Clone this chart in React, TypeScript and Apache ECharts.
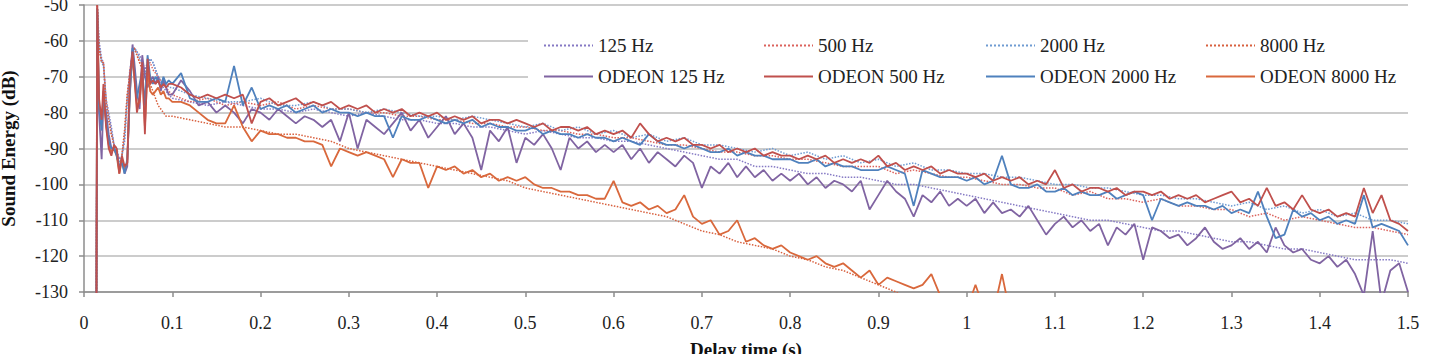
import React, { useEffect, useRef } from "react";
import * as echarts from "echarts";

// Shared sample times for the first reflections (s)
const earlyTimes = [
  0.014, 0.015, 0.017, 0.02, 0.022, 0.025, 0.028, 0.031, 0.034, 0.037,
  0.04, 0.043, 0.046, 0.049, 0.052, 0.055, 0.057, 0.06, 0.063, 0.066,
  0.069, 0.072, 0.075, 0.078, 0.081, 0.084, 0.087, 0.09, 0.093, 0.096,
];

// Sample grids after 0.1 s: 10 ms for ODEON, 20 ms for the measured curves
const odeonTimes = [
  ...earlyTimes,
  ...Array.from({ length: 141 }, (_, i) => Math.round((0.1 + i * 0.01) * 1000) / 1000),
];
const measuredTimes = [
  ...earlyTimes,
  ...Array.from({ length: 71 }, (_, i) => Math.round((0.1 + i * 0.02) * 1000) / 1000),
];

// Measured decay curves (dB)
const measured125 = [
  -140, -50, -60, -65, -66, -76, -80, -84, -89, -90, -93, -92, -88, -76, -68, -63, -62, -63, -64, -66, -68, -66, -65, -66, -68, -70, -72, -73, -74, -75,
  -76, -77, -78, -77, -78, -79, -79, -80, -79, -80,
  -81, -80, -81, -82, -82, -83, -83, -84, -84, -85,
  -86, -85, -86, -87, -87, -88, -88, -89, -90, -91,
  -92, -93, -93, -95, -95, -96, -97, -97, -98, -98,
  -99, -100, -100, -101, -102, -103, -104, -105, -106, -107,
  -108, -109, -110, -110, -111, -112, -113, -113, -114, -115,
  -116, -116, -117, -118, -118, -119, -120, -121, -121, -121,
  -122,
];
const measured500 = [
  -140, -50, -62, -66, -66, -77, -82, -86, -89, -90, -96, -92, -85, -75, -69, -63, -62, -64, -66, -68, -70, -67, -66, -68, -69, -70, -71, -72, -73, -74,
  -75, -77, -76, -78, -77, -78, -77, -79, -78, -79,
  -79, -80, -80, -81, -81, -82, -82, -83, -83, -84,
  -84, -85, -85, -86, -86, -87, -87, -88, -89, -89,
  -90, -91, -91, -92, -92, -93, -93, -94, -95, -95,
  -95, -97, -96, -97, -98, -98, -99, -100, -100, -101,
  -101, -103, -102, -104, -104, -105, -104, -106, -106, -107,
  -107, -109, -108, -110, -109, -110, -111, -112, -112, -113,
  -114,
];
const measured2000 = [
  -140, -51, -61, -66, -67, -77, -81, -85, -89, -90, -94, -92, -87, -77, -70, -64, -62, -63, -65, -66, -69, -67, -65, -66, -68, -70, -71, -72, -72, -73,
  -73, -75, -76, -77, -77, -76, -78, -78, -77, -79,
  -79, -80, -79, -80, -81, -81, -82, -81, -82, -83,
  -84, -83, -85, -84, -86, -85, -87, -86, -88, -87,
  -89, -89, -90, -91, -90, -92, -91, -93, -92, -94,
  -93, -95, -94, -96, -96, -97, -97, -98, -98, -99,
  -100, -100, -101, -101, -102, -103, -103, -104, -104, -105,
  -106, -105, -107, -106, -108, -107, -109, -108, -110, -110,
  -111,
];
const measured8000 = [
  -140, -50, -62, -66, -66, -77, -82, -86, -89, -90, -96, -92, -85, -75, -69, -63, -62, -64, -66, -68, -70, -71, -72, -74, -76, -78, -79, -80, -81, -81,
  -81, -82, -83, -84, -84, -85, -86, -86, -87, -88,
  -90, -91, -92, -93, -94, -95, -96, -97, -98, -99,
  -101, -102, -103, -104, -105, -106, -107, -108, -109, -111,
  -113, -114, -116, -117, -118, -120, -121, -123, -124, -126,
  -128, -130, -133,
];

// ODEON simulated decay curves (dB)
const odeon125 = [
  -140, -52, -80, -93, -76, -80, -86, -90, -90, -91, -96, -93, -97, -95, -72, -61, -66, -74, -79, -64, -70, -73, -71, -70, -72, -70, -74, -71, -73, -75,
  -75, -71, -74, -78, -77, -80, -78, -80, -83, -79,
  -80, -82, -79, -81, -83, -81, -82, -84, -82, -88,
  -80, -90, -82, -84, -86, -83, -80, -85, -82, -87,
  -84, -81, -86, -83, -87, -96, -85, -88, -84, -94,
  -87, -89, -86, -90, -96, -87, -90, -88, -91, -89,
  -91, -89, -93, -90, -94, -91, -93, -95, -92, -94,
  -101, -95, -97, -94, -98, -95, -98, -96, -99, -97,
  -99, -97, -100, -98, -101, -99, -100, -102, -99, -107,
  -103, -99, -102, -104, -109, -103, -105, -102, -106, -104,
  -106, -104, -108, -105, -108, -107, -109, -106, -110, -114,
  -111, -109, -112, -110, -113, -111, -117, -112, -114, -111,
  -121, -112, -113, -115, -114, -117, -115, -112, -116, -118,
  -117, -115, -118, -116, -119, -112, -117, -119, -118, -121,
  -122, -120, -123, -121, -125, -131, -113, -133, -124, -122,
  -130,
];
const odeon500 = [
  -140, -50, -76, -82, -72, -84, -90, -92, -89, -90, -97, -92, -95, -94, -70, -63, -70, -80, -76, -66, -86, -65, -72, -71, -72, -71, -73, -72, -73, -72,
  -72, -73, -75, -76, -75, -76, -75, -76, -75, -83,
  -77, -76, -78, -77, -76, -78, -77, -78, -77, -79,
  -78, -79, -78, -80, -79, -80, -79, -81, -80, -81,
  -80, -82, -81, -82, -81, -83, -82, -82, -83, -82,
  -83, -84, -83, -85, -84, -84, -85, -84, -86, -85,
  -86, -85, -87, -83, -86, -88, -87, -88, -87, -89,
  -89, -90, -89, -91, -90, -91, -90, -92, -91, -92,
  -92, -93, -92, -93, -92, -94, -93, -94, -93, -94,
  -92, -95, -94, -96, -95, -96, -95, -97, -96, -97,
  -97, -98, -97, -99, -98, -99, -98, -100, -99, -100,
  -96, -101, -100, -102, -101, -101, -102, -101, -103, -102,
  -102, -103, -102, -104, -103, -104, -103, -105, -104, -103,
  -102, -105, -104, -106, -101, -106, -105, -107, -103, -107,
  -108, -107, -109, -108, -109, -101, -108, -103, -110, -111,
  -113,
];
const odeon2000 = [
  -140, -51, -78, -85, -74, -82, -88, -90, -90, -92, -95, -94, -97, -93, -75, -62, -68, -76, -72, -68, -78, -64, -70, -72, -70, -71, -73, -70, -72, -71,
  -72, -69, -76, -77, -77, -76, -77, -67, -78, -73,
  -79, -78, -79, -78, -80, -79, -78, -80, -79, -80,
  -80, -81, -80, -81, -81, -87, -81, -82, -82, -81,
  -82, -83, -82, -83, -82, -84, -83, -84, -84, -85,
  -85, -84, -86, -85, -86, -86, -87, -86, -87, -87,
  -88, -87, -88, -89, -86, -88, -89, -89, -90, -89,
  -90, -91, -91, -90, -92, -91, -92, -92, -93, -93,
  -93, -94, -94, -93, -95, -94, -95, -95, -96, -96,
  -96, -95, -96, -97, -106, -96, -97, -98, -98, -98,
  -99, -98, -100, -99, -92, -100, -101, -101, -100, -102,
  -102, -101, -103, -102, -103, -103, -102, -104, -103, -102,
  -103, -110, -104, -105, -106, -105, -106, -106, -107, -106,
  -108, -107, -108, -102, -109, -115, -114, -107, -109, -108,
  -110, -109, -111, -110, -111, -103, -112, -111, -112, -113,
  -117,
];
const odeon8000 = [
  -140, -51, -78, -84, -75, -83, -89, -91, -90, -92, -97, -93, -96, -94, -74, -64, -70, -78, -77, -68, -84, -68, -74, -75, -74, -73, -75, -74, -76, -76,
  -77, -77, -78, -80, -82, -83, -83, -78, -84, -88,
  -85, -86, -86, -87, -87, -88, -88, -89, -95, -90,
  -91, -92, -91, -92, -93, -98, -93, -94, -94, -101,
  -95, -96, -95, -97, -96, -98, -97, -99, -98, -99,
  -98, -100, -101, -101, -102, -102, -103, -103, -104, -104,
  -99, -105, -106, -105, -107, -106, -108, -107, -103, -109,
  -111, -110, -114, -113, -110, -116, -115, -117, -118, -117,
  -119, -120, -121, -120, -122, -123, -122, -124, -126, -124,
  -128, -126, -127, -128, -129, -128, -125, -131, -132, -134,
  -135, -128, -135, -136, -125, -137, -138, -139, -140, -141,
];

const FONT = '"Liberation Serif", "Times New Roman", serif';

type Curve = {
  name: string;
  times: number[];
  values: number[];
  color: string;
  dotted: boolean;
};

const curves: Curve[] = [
  { name: "125 Hz", times: measuredTimes, values: measured125, color: "#8579C4", dotted: true },
  { name: "500 Hz", times: measuredTimes, values: measured500, color: "#DB625C", dotted: true },
  { name: "2000 Hz", times: measuredTimes, values: measured2000, color: "#6F9BD2", dotted: true },
  { name: "8000 Hz", times: measuredTimes, values: measured8000, color: "#D8603E", dotted: true },
  { name: "ODEON 125 Hz", times: odeonTimes, values: odeon125, color: "#8064A2", dotted: false },
  { name: "ODEON 8000 Hz", times: odeonTimes, values: odeon8000, color: "#D9683C", dotted: false },
  { name: "ODEON 2000 Hz", times: odeonTimes, values: odeon2000, color: "#4F81BD", dotted: false },
  { name: "ODEON 500 Hz", times: odeonTimes, values: odeon500, color: "#C0504D", dotted: false },
];

const legendColumns = [
  ["125 Hz", "ODEON 125 Hz"],
  ["500 Hz", "ODEON 500 Hz"],
  ["2000 Hz", "ODEON 2000 Hz"],
  ["8000 Hz", "ODEON 8000 Hz"],
];
const legendLeft = [538, 758, 980, 1200];

export default function App() {
  const ref = useRef<HTMLDivElement>(null);

  useEffect(() => {
    if (!ref.current) return;
    const chart = echarts.init(ref.current, undefined, { renderer: "svg" });

    chart.setOption({
      animation: false,
      backgroundColor: "#ffffff",
      textStyle: { fontFamily: FONT },
      grid: {
        left: 84,
        right: 21,
        top: 5,
        bottom: 62,
        containLabel: false,
        outerBoundsMode: "none",
      },
      xAxis: {
        type: "value",
        min: 0,
        max: 1.5,
        interval: 0.1,
        name: "Delay time (s)",
        nameLocation: "middle",
        nameGap: 48,
        nameTextStyle: { fontFamily: FONT, fontSize: 19, fontWeight: "bold", color: "#111" },
        axisLine: { show: true, lineStyle: { color: "#8c8c8c", width: 1.5 } },
        axisTick: { show: true, inside: false, length: 5, lineStyle: { color: "#8c8c8c", width: 1.5 } },
        axisLabel: { fontFamily: FONT, fontSize: 18, color: "#222", margin: 22 },
        splitLine: { show: false },
      },
      yAxis: {
        type: "value",
        min: -130,
        max: -50,
        interval: 10,
        name: "Sound Energy (dB)",
        nameLocation: "middle",
        nameRotate: 90,
        nameGap: 66,
        nameTextStyle: { fontFamily: FONT, fontSize: 19, fontWeight: "bold", color: "#111" },
        axisLine: { show: true, lineStyle: { color: "#8c8c8c", width: 1.5 } },
        axisTick: { show: true, inside: false, length: 5, lineStyle: { color: "#8c8c8c", width: 1.5 } },
        axisLabel: { fontFamily: FONT, fontSize: 18, color: "#222", margin: 16 },
        splitLine: { show: true, lineStyle: { color: "#cccccc", width: 2 } },
      },
      legend: legendColumns.map((names, i) => ({
        orient: "vertical",
        left: legendLeft[i],
        top: 31,
        itemWidth: 49,
        itemHeight: 14,
        itemGap: 12,
        selectedMode: false,
        data: names,
        itemStyle: { opacity: 0 },
        textStyle: { fontFamily: FONT, fontSize: 19, color: "#222" },
      })),
      graphic: [
        {
          type: "rect",
          z: 1,
          silent: true,
          shape: { x: 528, y: 26, width: 882, height: 70 },
          style: { fill: "#ffffff" },
        },
      ],
      series: curves.map((c) => ({
        name: c.name,
        type: "line",
        symbol: "none",
        clip: true,
        z: c.dotted ? 2 : 3,
        data: c.values.map((v, i) => [c.times[i], v]),
        lineStyle: {
          color: c.color,
          width: c.dotted ? 1.5 : 1.8,
          type: c.dotted ? "dotted" : "solid",
        },
        itemStyle: { color: c.color },
        emphasis: { disabled: true },
      })),
    });

    return () => chart.dispose();
  }, []);

  return (
    <div
      ref={ref}
      style={{ position: "fixed", left: 0, top: 0, width: 1429, height: 354, background: "#fff" }}
    />
  );
}
